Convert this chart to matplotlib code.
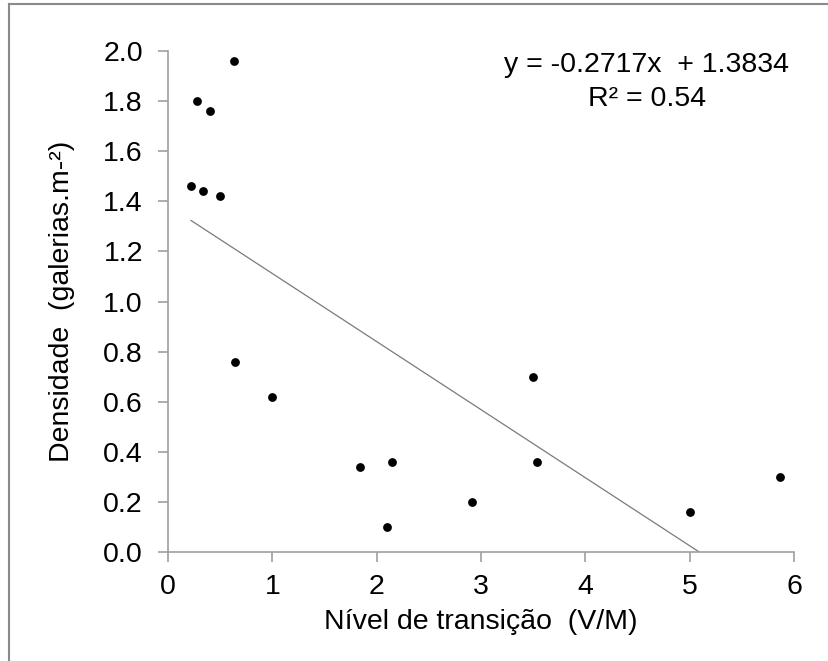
import matplotlib
matplotlib.use("Agg")
import matplotlib.pyplot as plt
from matplotlib.lines import Line2D
import numpy as np

plt.rcParams['font.family'] = ['Liberation Sans', 'DejaVu Sans']

# Data
nivel = [0.22, 0.28, 0.34, 0.40, 0.50, 0.63, 0.64, 1.00, 1.84, 2.10, 2.15, 2.91, 3.50, 3.54, 5.00, 5.87]
densidade = [1.46, 1.80, 1.44, 1.76, 1.42, 1.96, 0.76, 0.62, 0.34, 0.10, 0.36, 0.20, 0.70, 0.36, 0.16, 0.30]
slope = -0.2717
intercept = 1.3834
r2 = 0.54
x_ticks = [0, 1, 2, 3, 4, 5, 6]
y_ticks = [0.0, 0.2, 0.4, 0.6, 0.8, 1.0, 1.2, 1.4, 1.6, 1.8, 2.0]

W, H = 829, 661
fig = plt.figure(figsize=(W / 100, H / 100), dpi=100)
ax = fig.add_axes([168 / W, 1 - 552 / H, (794 - 168) / W, (552 - 51) / H])

ax.scatter(nivel, densidade, s=40, color='black', zorder=3, linewidths=0)

xs = np.array([min(nivel), max(nivel)])
ax.plot(xs, slope * xs + intercept, color='#7a7a7a', lw=0.9, zorder=2)

ax.set_xlim(0, 6)
ax.set_ylim(0, 2.0)
ax.set_xticks(x_ticks)
ax.set_yticks(y_ticks)
ax.set_yticklabels([f"{v:.1f}" for v in y_ticks])
ax.set_xticklabels([str(v) for v in x_ticks])

grey = '#a0a0a0'
for s in ['top', 'right']:
    ax.spines[s].set_visible(False)
for s in ['left', 'bottom']:
    ax.spines[s].set_color(grey)
    ax.spines[s].set_linewidth(1.2)
ax.tick_params(axis='both', colors=grey, labelcolor='black', labelsize=20.5,
               length=7, width=1.2, direction='out')
ax.tick_params(axis='y', pad=11)
ax.tick_params(axis='x', pad=9)

ax.set_xlabel("Nível de transição  (V/M)", fontsize=20.5, labelpad=6)
ax.set_ylabel("Densidade  (galerias.m-²)", fontsize=20.5, labelpad=20)

fig.text(647 / W, 1 - 72 / H, "y = -0.2717x  + 1.3834", ha='center', va='baseline', fontsize=20.5)
fig.text(647 / W, 1 - 105.5 / H, f"R² = {r2:.2f}", ha='center', va='baseline', fontsize=20.5)

# outer frame (cut off at right and bottom)
fig.add_artist(Line2D([9.5 / W, 9.5 / W], [0, 1 - 4 / H], transform=fig.transFigure, color='#8a8a8a', lw=1.5))
fig.add_artist(Line2D([9.5 / W, 1], [1 - 4 / H, 1 - 4 / H], transform=fig.transFigure, color='#8a8a8a', lw=1.5))

fig.savefig("out.png", dpi=100)
